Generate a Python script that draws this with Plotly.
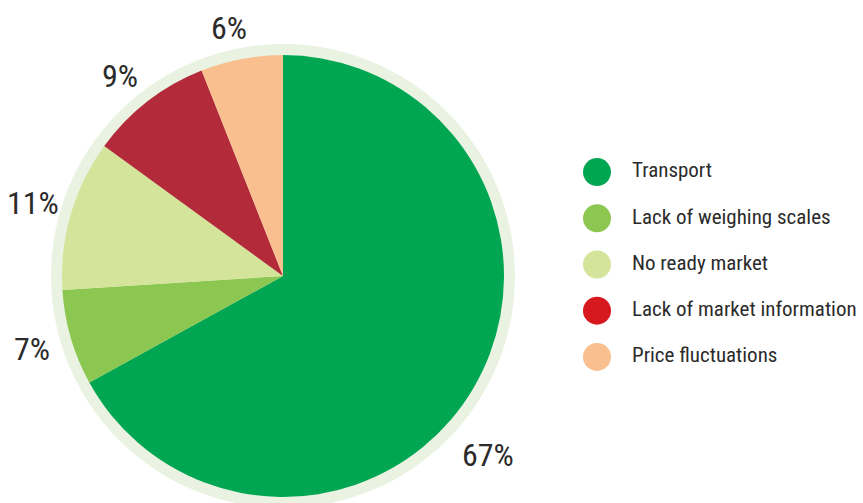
import math
import plotly.graph_objects as go

# Share of respondents naming each marketing constraint
categories = ["Transport", "Lack of weighing scales", "No ready market",
              "Lack of market information", "Price fluctuations"]
shares = [67, 7, 11, 9, 6]

slice_colors = ["#00a651", "#8cc751", "#d4e49b", "#b32b3b", "#f9bf8f"]
legend_colors = ["#00a651", "#8cc751", "#d4e49b", "#d7191f", "#f9bf8f"]

W, H = 863, 503
CX, CY, R = 283, 276, 221      # pie centre / radius in px
RING = 11                      # pale halo width
FONT = "Roboto Condensed, DejaVu Sans Condensed, sans-serif"
TXT = "#2b2b2b"

# per-label placement tweaks (radius in px, angular nudge in degrees)
label_radius = [272, 261, 260, 258, 254]
label_nudge = [10.5, 0, 0, -1.5, -1.5]


def px(x):
    return x / W


def py(y):
    return 1 - y / H


fig = go.Figure()

fig.add_trace(go.Pie(
    labels=categories, values=shares, sort=False, direction="clockwise",
    rotation=0, marker=dict(colors=slice_colors, line=dict(width=0)),
    textinfo="none", hoverinfo="label+percent", showlegend=False,
    domain=dict(x=[px(CX - R), px(CX + R)], y=[py(CY + R), py(CY - R)]),
))

# pale halo behind the pie
fig.add_shape(type="circle", xref="paper", yref="paper", layer="below",
              x0=px(CX - R - RING), x1=px(CX + R + RING),
              y0=py(CY + R + RING), y1=py(CY - R - RING),
              fillcolor="#eaf2e2", line=dict(width=0))

# percentage labels around the pie, placed at each slice's mid-angle
total = sum(shares)
cum = 0
for v, rr, nudge in zip(shares, label_radius, label_nudge):
    mid = (cum + v / 2) / total * 360 + nudge
    cum += v
    lx = CX + rr * math.sin(math.radians(mid))
    ly = CY - rr * math.cos(math.radians(mid))
    fig.add_annotation(x=px(lx), y=py(ly), xref="paper", yref="paper",
                       text=f"{round(v / total * 100)}%", showarrow=False,
                       xanchor="center", yanchor="middle",
                       font=dict(family=FONT, size=32, color=TXT))

# legend drawn as a small marker column with labels
fig.add_trace(go.Scatter(
    x=[0] * len(categories), y=categories, mode="markers",
    marker=dict(size=28, color=legend_colors, line=dict(width=0)),
    hoverinfo="skip", showlegend=False, cliponaxis=False,
    xaxis="x", yaxis="y",
))
fig.add_trace(go.Scatter(
    x=[1] * len(categories), y=categories, mode="text", text=categories,
    textposition="middle right",
    textfont=dict(family=FONT, size=21, color=TXT),
    hoverinfo="skip", showlegend=False, cliponaxis=False,
    xaxis="x", yaxis="y",
))

fig.update_layout(
    width=W, height=H, margin=dict(l=0, r=0, t=0, b=0),
    paper_bgcolor="white", plot_bgcolor="rgba(0,0,0,0)",
    xaxis=dict(domain=[px(597), px(632)], range=[0, 1], visible=False,
               fixedrange=True),
    yaxis=dict(domain=[py(380), py(149)], range=[4.5, -0.5], visible=False,
               type="category", fixedrange=True),
)

fig.write_html("out.html")
